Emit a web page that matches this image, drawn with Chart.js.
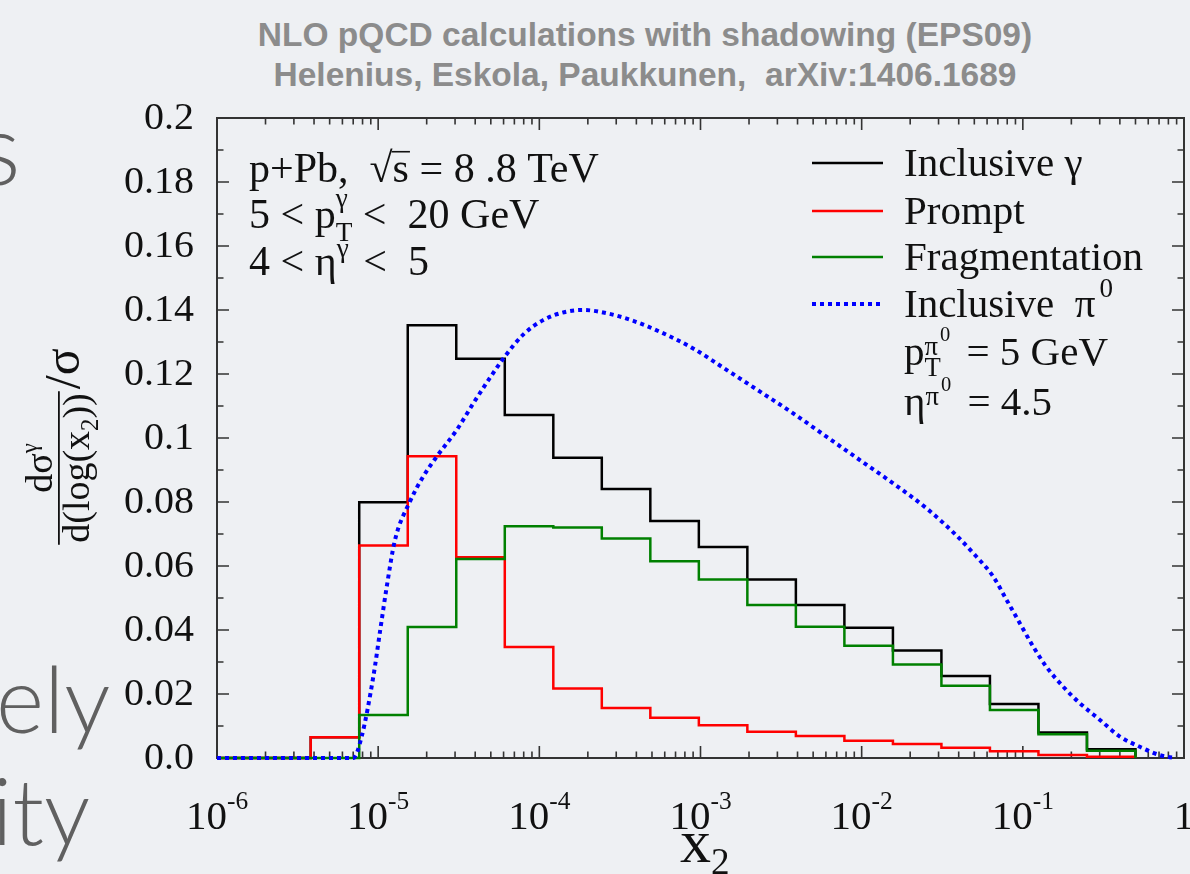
<!DOCTYPE html>
<html>
<head>
<meta charset="utf-8">
<script src="https://cdn.jsdelivr.net/npm/chart.js@4.4.1/dist/chart.umd.min.js"></script>
<style>
  html, body { margin: 0; padding: 0; background: #eef0f3; overflow: hidden; }
  #page { position: relative; width: 1190px; height: 874px; overflow: hidden; }
  #chart { position: absolute; left: 0; top: 0; }
  .head { position: absolute; left: 145px; width: 1000px; text-align: center; font: bold 33.5px "Liberation Sans", Arial, sans-serif; color: #8c8c8c; line-height: 1; }
  .slide { position: absolute; font-family: Lato, "Open Sans", sans-serif; font-weight: 300; color: #606060; line-height: 1; }
</style>
</head>
<body>
<div id="page">
  <div class="slide" style="left:-22px; top:96px; font-size:100px">s</div>
  <div class="slide" style="left:-4px; top:652px; font-size:92px">ely</div>
  <div class="slide" style="left:-8px; top:764px; font-size:92px">ity</div>
  <div class="head" style="top:18px">NLO pQCD calculations with shadowing (EPS09)</div>
  <div class="head" style="top:58px">Helenius, Eskola, Paukkunen,&nbsp; arXiv:1406.1689</div>
  <canvas id="chart" width="1190" height="874"></canvas>
</div>
<script>
// histogram bin edges in x2 (each bin doubles x2)
const binEdges = [3.815e-6, 7.629e-6, 1.526e-5, 3.052e-5, 6.104e-5, 1.221e-4, 2.441e-4, 4.883e-4,
                  9.766e-4, 1.953e-3, 3.906e-3, 7.813e-3, 1.563e-2, 3.125e-2, 6.25e-2, 0.125, 0.25, 0.5];

// photon yields per bin
const inclusiveGamma = [0.0065, 0.0799, 0.1352, 0.1248, 0.1072, 0.0938, 0.0841, 0.0741, 0.0659,
                        0.0558, 0.0478, 0.0407, 0.0336, 0.0256, 0.0169, 0.0080, 0.0027];
const promptGamma    = [0.0065, 0.0664, 0.0943, 0.0627, 0.0347, 0.0217, 0.0156, 0.0126, 0.0102,
                        0.0082, 0.0069, 0.0054, 0.0044, 0.0032, 0.0021, 0.0009, 0.0004];
const fragGamma      = [0, 0.0134, 0.0409, 0.0622, 0.0724, 0.0720, 0.0686, 0.0615, 0.0558,
                        0.0478, 0.0410, 0.0351, 0.0292, 0.0226, 0.0150, 0.0074, 0.0023];

// inclusive pi0 distribution
const pionX = [1e-6, 5e-6, 7.0e-6, 7.9e-6, 9.33e-6, 1.03e-5, 1.13e-5, 1.27e-5, 1.57e-5, 1.90e-5,
               2.31e-5, 3.07e-5, 3.89e-5, 4.82e-5, 6.12e-5, 7.94e-5, 1.06e-4, 1.48e-4, 1.87e-4,
               2.61e-4, 3.83e-4, 5.60e-4, 9.0e-4, 1.45e-3, 2.34e-3, 3.76e-3, 6.05e-3, 9.75e-3,
               1.57e-2, 2.53e-2, 3.88e-2, 5.16e-2, 6.55e-2, 7.93e-2, 9.58e-2, 0.116, 0.140,
               0.178, 0.226, 0.301, 0.400, 0.532, 0.708, 0.877];
const pionY = [0, 0, 0, 0.0067, 0.0254, 0.040, 0.0535, 0.068, 0.080, 0.0879,
               0.0942, 0.1025, 0.1108, 0.118, 0.1255, 0.1323, 0.1369, 0.1395, 0.140,
               0.139, 0.1366, 0.1332, 0.128, 0.1213, 0.1145, 0.1077, 0.1004, 0.0931,
               0.0858, 0.0780, 0.0695, 0.0629, 0.0567, 0.0494, 0.0421, 0.0348, 0.0285,
               0.0223, 0.0171, 0.0119, 0.0067, 0.0035, 0.0009, 0];

// axis ticks
const xDecades = [1e-6, 1e-5, 1e-4, 1e-3, 1e-2, 1e-1, 1];
const xExponents = ['-6', '-5', '-4', '-3', '-2', '-1', ''];
const yTicks = [0, 0.02, 0.04, 0.06, 0.08, 0.1, 0.12, 0.14, 0.16, 0.18, 0.2];
const yTickLabels = ['0.0', '0.02', '0.04', '0.06', '0.08', '0.1', '0.12', '0.14', '0.16', '0.18', '0.2'];

const SERIF = '"Liberation Serif", "Times New Roman", serif';
const font = (s) => `${s}px ${SERIF}`;

// turn bin contents into points for a step line starting at the left edge
function stepPoints(vals) {
  const pts = [{ x: 1e-6, y: 0 }];
  vals.forEach((v, i) => pts.push({ x: binEdges[i], y: v }));
  pts.push({ x: binEdges[binEdges.length - 1], y: 0 });
  return pts;
}

// text with super/subscripts; strings sit on the baseline, objects hold scripts
function drawRich(ctx, x, y, parts, size, dry) {
  ctx.textAlign = 'left';
  ctx.textBaseline = 'alphabetic';
  for (const p of parts) {
    if (typeof p === 'string') {
      ctx.font = font(size);
      if (!dry) ctx.fillText(p, x, y);
      x += ctx.measureText(p).width;
      continue;
    }
    if (p.sqrt) {
      ctx.font = font(size);
      const rw = ctx.measureText('√').width;
      const sw = ctx.measureText(p.sqrt).width;
      if (!dry) {
        ctx.fillText('√', x, y);
        ctx.fillText(p.sqrt, x + rw, y);
        ctx.fillRect(x + rw - 1, y - size * 0.74, sw + 2, 1.6);
      }
      x += rw + sw;
      continue;
    }
    const s = size * (p.scale || 0.65);
    ctx.font = font(s);
    x += p.pre || 0;
    let w = 0;
    if (p.sup) {
      if (!dry) ctx.fillText(p.sup, x, y - size * (p.rise || 0.42));
      w = ctx.measureText(p.sup).width;
      if (p.sup2) {
        ctx.font = font(size * 0.5);
        if (!dry) ctx.fillText(p.sup2, x + w + 2, y - size * (p.rise2 || 0.6));
        w += ctx.measureText(p.sup2).width + 2;
        ctx.font = font(s);
      }
    }
    if (p.sub) {
      if (!dry) ctx.fillText(p.sub, x, y + size * (p.drop || 0.3));
      w = Math.max(w, ctx.measureText(p.sub).width);
    }
    x += w + (p.pad || 0);
  }
  return x;
}

const legendRows = [
  { ds: 3, parts: ['Inclusive γ'] },
  { ds: 2, parts: ['Prompt'] },
  { ds: 1, parts: ['Fragmentation'] },
  { ds: 0, parts: ['Inclusive  π', { sup: '0', rise: 0.5, scale: 0.66, pre: 4 }] },
  { ds: -1, parts: ['p', { sup: 'π', rise: 0.25, sub: 'T', drop: 0.28, sup2: '0', rise2: 0.58, pad: 6 }, ' = 5 GeV'] },
  { ds: -1, parts: ['η', { sup: 'π', rise: 0.25, sup2: '0', rise2: 0.58, pad: 6 }, ' = 4.5'] }
];

const frameTicks = {
  id: 'frameTicks',
  beforeDatasetsDraw(chart) {
    const { ctx, chartArea: a, scales: { x, y } } = chart;
    ctx.save();
    ctx.strokeStyle = '#333';
    ctx.lineWidth = 2;
    ctx.strokeRect(a.left, a.top, a.right - a.left, a.bottom - a.top);
    ctx.lineWidth = 1.6;
    ctx.beginPath();
    const xTick = (v, len) => {
      const px = x.getPixelForValue(v);
      ctx.moveTo(px, a.bottom); ctx.lineTo(px, a.bottom - len);
      ctx.moveTo(px, a.top); ctx.lineTo(px, a.top + len);
    };
    xDecades.forEach((d, i) => {
      xTick(d, 12);
      if (i < xDecades.length - 1) for (let m = 2; m <= 9; m++) xTick(m * d, 6.5);
    });
    for (let i = 0; i < yTicks.length; i++) {
      const yy = [yTicks[i]];
      if (i < yTicks.length - 1) yy.push((yTicks[i] + yTicks[i + 1]) / 2);
      yy.forEach((v, k) => {
        const py = y.getPixelForValue(v);
        const len = k === 0 ? 12 : 6.5;
        ctx.moveTo(a.left, py); ctx.lineTo(a.left + len, py);
        ctx.moveTo(a.right, py); ctx.lineTo(a.right - len, py);
      });
    }
    ctx.stroke();
    ctx.restore();
  },
  afterDraw(chart) {
    const { ctx, chartArea: a, scales: { x, y } } = chart;
    ctx.save();
    ctx.fillStyle = '#111';

    // y tick labels, slightly widened serif digits
    ctx.textAlign = 'right';
    ctx.textBaseline = 'middle';
    ctx.font = font(37);
    yTicks.forEach((v, i) => {
      ctx.save();
      ctx.translate(a.left - 23, y.getPixelForValue(v) + 1);
      ctx.scale(1.08, 1);
      ctx.fillText(yTickLabels[i], 0, 0);
      ctx.restore();
    });

    // x tick labels: 10 with the exponent raised
    xDecades.forEach((d, i) => {
      const parts = xExponents[i] ? ['10', { sup: xExponents[i], rise: 0.5, scale: 0.62 }] : ['1'];
      const w = drawRich(ctx, 0, 0, parts, 41, true);
      drawRich(ctx, x.getPixelForValue(d) - w / 2, 829, parts, 41);
    });

    // x axis title
    drawRich(ctx, 680, 862, ['x', { sub: '2', drop: 0.2, scale: 0.6 }], 62);

    // y axis title, rotated fraction
    ctx.save();
    ctx.translate(59, 468);
    ctx.rotate(-Math.PI / 2);
    const fs = 38;
    const num = ['dσ', { sup: 'γ', rise: 0.4, scale: 0.6 }];
    const den = ['d(log(x', { sub: '2', drop: 0.25, scale: 0.65 }, '))'];
    const wn = drawRich(ctx, 0, 0, num, fs, true);
    const wd = drawRich(ctx, 0, 0, den, fs, true);
    const bar = Math.max(wn, wd) + 4;
    drawRich(ctx, -wn / 2, -7, num, fs);
    drawRich(ctx, -wd / 2, fs * 0.78, den, fs);
    ctx.fillRect(-bar / 2, -1, bar, 1.8);
    drawRich(ctx, bar / 2 + 2, 20, ['/σ'], 50);
    ctx.restore();

    // run conditions
    drawRich(ctx, 249, 182, ['p+Pb,  ', { sqrt: 's' }, ' = 8 .8 TeV'], 42);
    drawRich(ctx, 249, 228, ['5 < p', { sup: 'γ', rise: 0.5, sub: 'T', drop: 0.3 }, ' <  20 GeV'], 42);
    drawRich(ctx, 249, 275, ['4 < η', { sup: 'γ', rise: 0.42, pad: 4 }, ' <  5'], 42);

    // legend
    const rowY = [163, 211, 257, 304, 352, 402];
    legendRows.forEach((row, i) => {
      if (row.ds >= 0) {
        const ds = chart.data.datasets[row.ds];
        ctx.save();
        ctx.strokeStyle = ds.borderColor;
        ctx.lineWidth = ds.borderWidth;
        ctx.setLineDash(ds.borderDash || []);
        ctx.beginPath();
        ctx.moveTo(812, rowY[i]);
        ctx.lineTo(883, rowY[i]);
        ctx.stroke();
        ctx.restore();
      }
      drawRich(ctx, 904, rowY[i] + 13, row.parts, 41);
    });
    ctx.restore();
  }
};

const ctx = document.getElementById('chart').getContext('2d');
new Chart(ctx, {
  type: 'line',
  data: {
    datasets: [
      {
        label: 'Inclusive π0',
        data: pionX.map((v, i) => ({ x: v, y: pionY[i] })),
        borderColor: '#0000ff', borderWidth: 4, borderDash: [4, 4],
        pointRadius: 0, cubicInterpolationMode: 'monotone', clip: false, order: 0
      },
      {
        label: 'Fragmentation', data: stepPoints(fragGamma),
        borderColor: '#008000', borderWidth: 2.5, stepped: true, pointRadius: 0, clip: false, order: 1
      },
      {
        label: 'Prompt', data: stepPoints(promptGamma),
        borderColor: '#ff0000', borderWidth: 2.5, stepped: true, pointRadius: 0, clip: false, order: 2
      },
      {
        label: 'Inclusive γ', data: stepPoints(inclusiveGamma),
        borderColor: '#000000', borderWidth: 2.5, stepped: true, pointRadius: 0, clip: false, order: 3
      }
    ]
  },
  options: {
    responsive: false,
    animation: false,
    layout: { padding: { left: 217, right: 6, top: 118, bottom: 116 } },
    scales: {
      x: { type: 'logarithmic', min: 1e-6, max: 1, display: false },
      y: { type: 'linear', min: 0, max: 0.2, display: false }
    },
    plugins: { legend: { display: false }, tooltip: { enabled: false } }
  },
  plugins: [frameTicks]
});
</script>
</body>
</html>
